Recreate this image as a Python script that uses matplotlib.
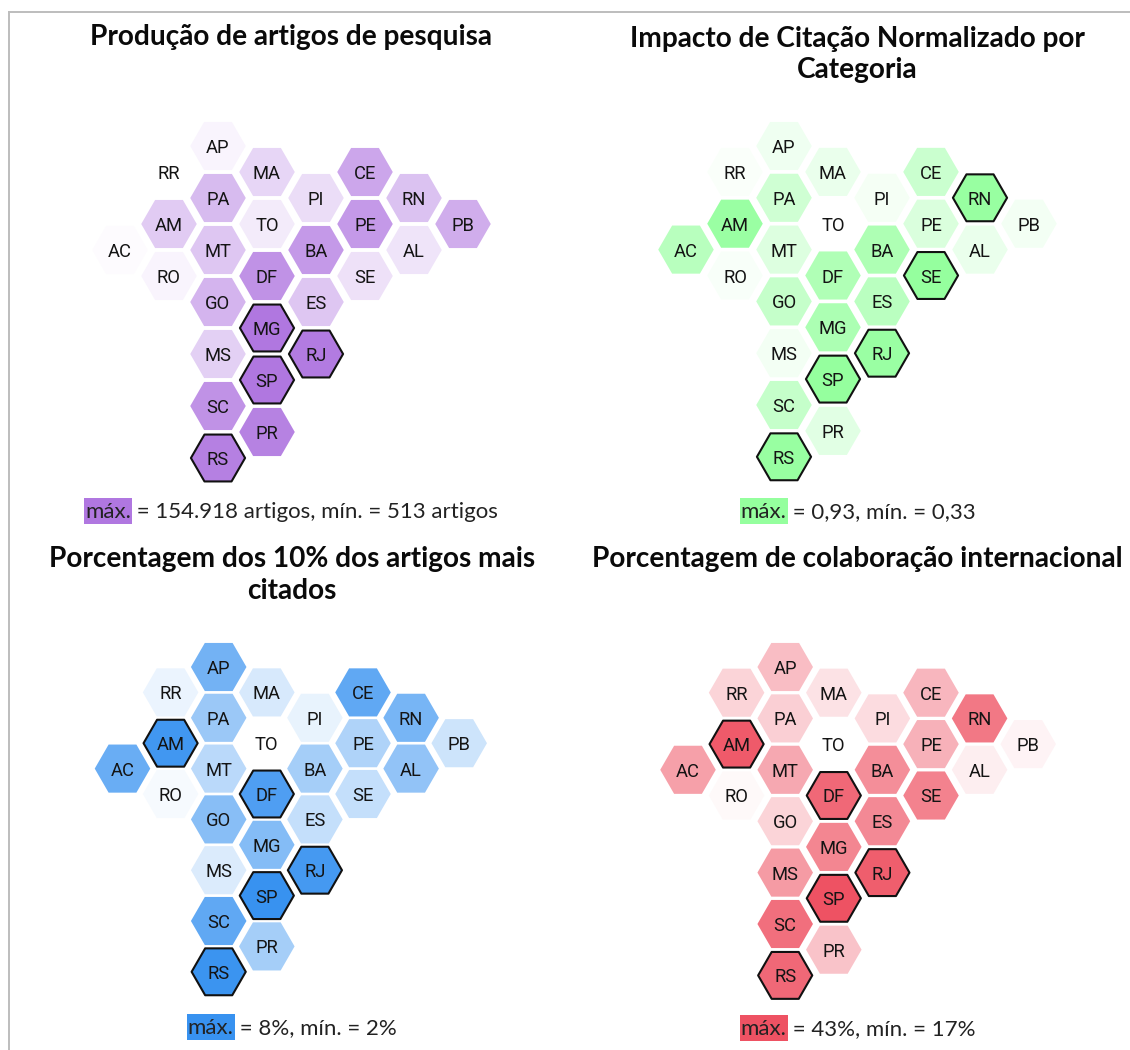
import numpy as np
import matplotlib
matplotlib.use("Agg")
import matplotlib.pyplot as plt
from matplotlib.colors import LinearSegmentedColormap, LogNorm, Normalize
from matplotlib.lines import Line2D
from matplotlib.patches import Rectangle

W, H = 1130, 1050

# hex grid cells
states = ["AP", "RR", "MA", "CE", "PA", "PI", "RN", "AM", "TO", "PE", "PB", "AC", "MT",
          "BA", "AL", "RO", "DF", "SE", "GO", "ES", "MG", "MS", "RJ", "SP", "SC", "PR", "RS"]
cols = [2, 1, 3, 5, 2, 4, 6, 1, 3, 5, 7, 0, 2, 4, 6, 1, 3, 5, 2, 4, 3, 2, 4, 3, 2, 3, 2]
rows = [0, 1, 1, 1, 2, 2, 2, 3, 3, 3, 3, 4, 4, 4, 4, 5, 5, 5, 6, 6, 7, 8, 8, 9, 10, 11, 12]

# values estimated from the shading, same order as states
artigos = [810, 513, 2845, 20980, 8920, 2139, 6705, 4494, 1209, 37200, 15790, 609, 5643,
           37200, 1608, 810, 49500, 1802, 11850, 5643, 154918, 3782, 130300, 154918,
           49500, 97900, 103700]
cnci = [0.42, 0.36, 0.45, 0.63, 0.60, 0.39, 0.91, 0.90, 0.33, 0.54, 0.40, 0.73, 0.52,
        0.79, 0.45, 0.37, 0.78, 0.93, 0.66, 0.72, 0.80, 0.40, 0.90, 0.93, 0.66, 0.50, 0.91]
top10 = [6.2, 2.6, 3.2, 6.8, 5.0, 2.7, 6.1, 7.7, 2.0, 4.4, 3.5, 6.5, 4.1,
         4.7, 5.3, 2.3, 7.3, 3.8, 5.6, 3.8, 5.7, 3.1, 7.6, 8.0, 6.8, 4.7, 7.9]
colab = [26.9, 23.5, 21.4, 27.9, 24.3, 22.2, 37.3, 41.7, 17.0, 28.7, 18.8, 31.3, 30.0,
         33.9, 19.6, 18.0, 39.6, 35.7, 23.5, 34.7, 35.2, 32.1, 41.2, 43.0, 38.6, 26.1, 39.6]

titles = ["Produção de artigos de pesquisa",
          "Impacto de Citação Normalizado por\nCategoria",
          "Porcentagem dos 10% dos artigos mais\ncitados",
          "Porcentagem de colaboração internacional"]
notes = ["= 154.918 artigos, mín. = 513 artigos", "= 0,93, mín. = 0,33",
         "= 8%, mín. = 2%", "= 43%, mín. = 17%"]
colors = ["#B077E0", "#95FF9E", "#3892F0", "#EE5263"]
outlined = [["MG", "RJ", "SP", "RS"],
            ["RN", "SE", "RJ", "SP", "RS"],
            ["AM", "DF", "RJ", "SP", "RS"],
            ["AM", "DF", "RJ", "SP", "RS"]]
norms = [LogNorm(513, 154918), Normalize(0.33, 0.93), Normalize(2, 8), Normalize(17, 43)]
series = [artigos, cnci, top10, colab]

# panel layout in pixels: col 0 x, col step, row 0 y, row step
layout = [(120, 49, 146, 26), (686, 49, 146, 25.9), (122.5, 48.1, 667, 25.4), (688, 48.6, 667, 25.7)]
title_xy = [(291.5, 37.5), (857.5, 37.5), (292, 558.5), (857.5, 558.5)]
note_xy = [(291.5, 512), (858, 512), (292, 1028), (858, 1029)]

TITLE_FONT = dict(family="Lato", weight="bold", size=20.2, color="#0a0a0a")
NOTE_FONT = dict(family="Lato", size=16, color="#222222")

fig = plt.figure(figsize=(W / 100, H / 100), dpi=100)
fig.patch.set_facecolor("white")


def fx(x):
    return x / W


def fy(y):
    return 1 - y / H


cols = np.array(cols)
rows = np.array(rows)
for i in range(4):
    x0, dx, y0, dy = layout[i]
    ax = fig.add_axes([fx(x0 - dx), fy(y0 + 13 * dy), 9 * dx / W, 14 * dy / H])
    ax.set_xlim(-1, 8)
    ax.set_ylim(13, -1)
    ax.axis("off")

    cmap = LinearSegmentedColormap.from_list("shade", ["#ffffff", colors[i]])
    vals = np.array(series[i])
    is_top = np.isin(states, outlined[i])
    # plain cells first, outlined ones on top
    ax.scatter(cols[~is_top], rows[~is_top], c=vals[~is_top], cmap=cmap, norm=norms[i],
               marker="H", s=1600, linewidths=0, zorder=2)
    ax.scatter(cols[is_top], rows[is_top], c=vals[is_top], cmap=cmap, norm=norms[i],
               marker="H", s=1520, edgecolors="#111111", linewidths=1.5, zorder=3)
    for st, c, r in zip(states, cols, rows):
        ax.text(c, r, st, ha="center", va="center_baseline", family="Roboto", size=13.2,
                color="#141414", zorder=4)

    tx, ty = title_xy[i]
    if "\n" in titles[i]:
        fig.text(fx(tx), fy(ty - 12), titles[i], ha="center", va="top", linespacing=1.24, **TITLE_FONT)
    else:
        fig.text(fx(tx), fy(ty), titles[i], ha="center", va="center", **TITLE_FONT)

    # max/min note, the "máx." word sits on a swatch of the panel colour
    r = fig.canvas.get_renderer()
    head = fig.text(0, fy(note_xy[i][1]), "máx.", va="center", zorder=5, **NOTE_FONT)
    tail = fig.text(0, fy(note_xy[i][1]), " " + notes[i], va="center", zorder=5, **NOTE_FONT)
    w_head = head.get_window_extent(r).width
    w_tail = tail.get_window_extent(r).width
    left = note_xy[i][0] - (w_head + w_tail) / 2
    head.set_x(fx(left))
    tail.set_x(fx(left + w_head))
    fig.add_artist(Rectangle((fx(left - 1), fy(note_xy[i][1] + 12)), (w_head + 2) / W, 26 / H,
                             fc=colors[i], ec="none", zorder=1))

# frame lines at the top and on the left
fig.add_artist(Line2D([fx(8.5), fx(8.5)], [fy(12), 0], color="#BDBDBD", lw=1.4))
fig.add_artist(Line2D([fx(8.5), 1], [fy(12), fy(12)], color="#BDBDBD", lw=1.4))

fig.savefig("out.png", dpi=100)
